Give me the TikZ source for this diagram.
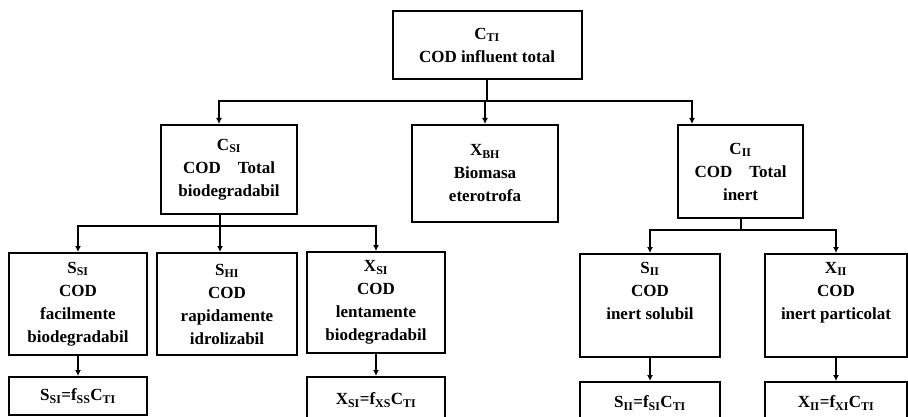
\documentclass[tikz,border=0pt]{standalone}
\usepackage{fontspec}
\setmainfont{Liberation Serif}
\usetikzlibrary{arrows.meta,calc}
\begin{document}
\begin{tikzpicture}[x=1pt,y=-1pt,
  box/.style={draw, line width=2pt, align=center, inner sep=0pt,
    font=\bfseries\fontsize{17}{23}\selectfont},
  conn/.style={line width=2pt},
  arr/.style={conn,-{Latex[length=6pt,width=6pt]}}]
\useasboundingbox (0,0) rectangle (908,417);
\fill[white] (0,0) rectangle (908,417);
% level 0
\node[box, minimum width=189pt, minimum height=68pt] (top) at (487,45)
  {C\textsubscript{TI}\\COD influent total};
% level 1
\node[box, minimum width=136pt, minimum height=89pt] (csi) at (229,169.5)
  {C\textsubscript{SI}\\COD\quad Total\\biodegradabil};
\node[box, minimum width=146pt, minimum height=97pt] (xbh) at (485,173.5)
  {X\textsubscript{BH}\\Biomasa\\eterotrofa};
\node[box, minimum width=125pt, minimum height=93pt] (cii) at (740.5,171.5)
  {C\textsubscript{II}\\COD\quad Total\\inert};
% level 2
\node[box, minimum width=138pt, minimum height=102pt] (ssi) at (78,304)
  {S\textsubscript{SI}\\COD\\facilmente\\biodegradabil};
\node[box, minimum width=140pt, minimum height=102pt] (shi) at (227,304)
  {S\textsubscript{HI}\\COD\\rapidamente\\idrolizabil};
\node[box, minimum width=138pt, minimum height=101pt] (xsi) at (376,302.5)
  {X\textsubscript{SI}\\COD\\lentamente\\biodegradabil};
\node[box, minimum width=140pt, minimum height=103pt] (sii) at (650,305.5)
  {S\textsubscript{II}\\COD\\inert solubil\\\strut};
\node[box, minimum width=142pt, minimum height=103pt] (xii) at (836,305.5)
  {X\textsubscript{II}\\COD\\inert particolat\\\strut};
% level 3 (formula boxes, cut by the lower edge)
\node[box, minimum width=138pt, minimum height=38pt] (fssi) at (78,396)
  {S\textsubscript{SI}=f\textsubscript{SS}C\textsubscript{TI}};
\node[box, minimum width=138pt, minimum height=46pt] (fxsi) at (376,400)
  {X\textsubscript{SI}=f\textsubscript{XS}C\textsubscript{TI}};
\node[box, minimum width=140pt, minimum height=46pt, text depth=6pt] (fsii) at (650,405)
  {S\textsubscript{II}=f\textsubscript{SI}C\textsubscript{TI}};
\node[box, minimum width=142pt, minimum height=46pt, text depth=6pt] (fxii) at (836,405)
  {X\textsubscript{II}=f\textsubscript{XI}C\textsubscript{TI}};
% connectors level 0 -> 1
\coordinate (b1) at (487,101);
\draw[conn] (top.south) -- (b1);
\draw[arr] (b1) -| ($(csi.north west)+(59,0)$);
\draw[arr] (b1) -| ($(cii.north west)+(15,0)$);
\draw[arr] (b1 -| xbh.north) -- (xbh.north);
% connectors C_SI -> level 2
\coordinate (b2) at (220,226);
\draw[conn] (csi.south -| b2) -- (b2);
\draw[arr] (b2) -| (ssi.north);
\draw[arr] (b2) -| (xsi.north);
\draw[arr] (b2) -- (shi.north -| b2);
% connectors C_II -> level 2
\coordinate (b3) at (740.5,230);
\draw[conn] (cii.south) -- (b3);
\draw[arr] (b3) -| (sii.north);
\draw[arr] (b3) -| (xii.north);
% connectors level 2 -> 3
\draw[arr] (ssi.south) -- (fssi.north);
\draw[arr] (xsi.south) -- (fxsi.north);
\draw[arr] (sii.south) -- (fsii.north);
\draw[arr] (xii.south) -- (fxii.north);
\end{tikzpicture}
\end{document}
